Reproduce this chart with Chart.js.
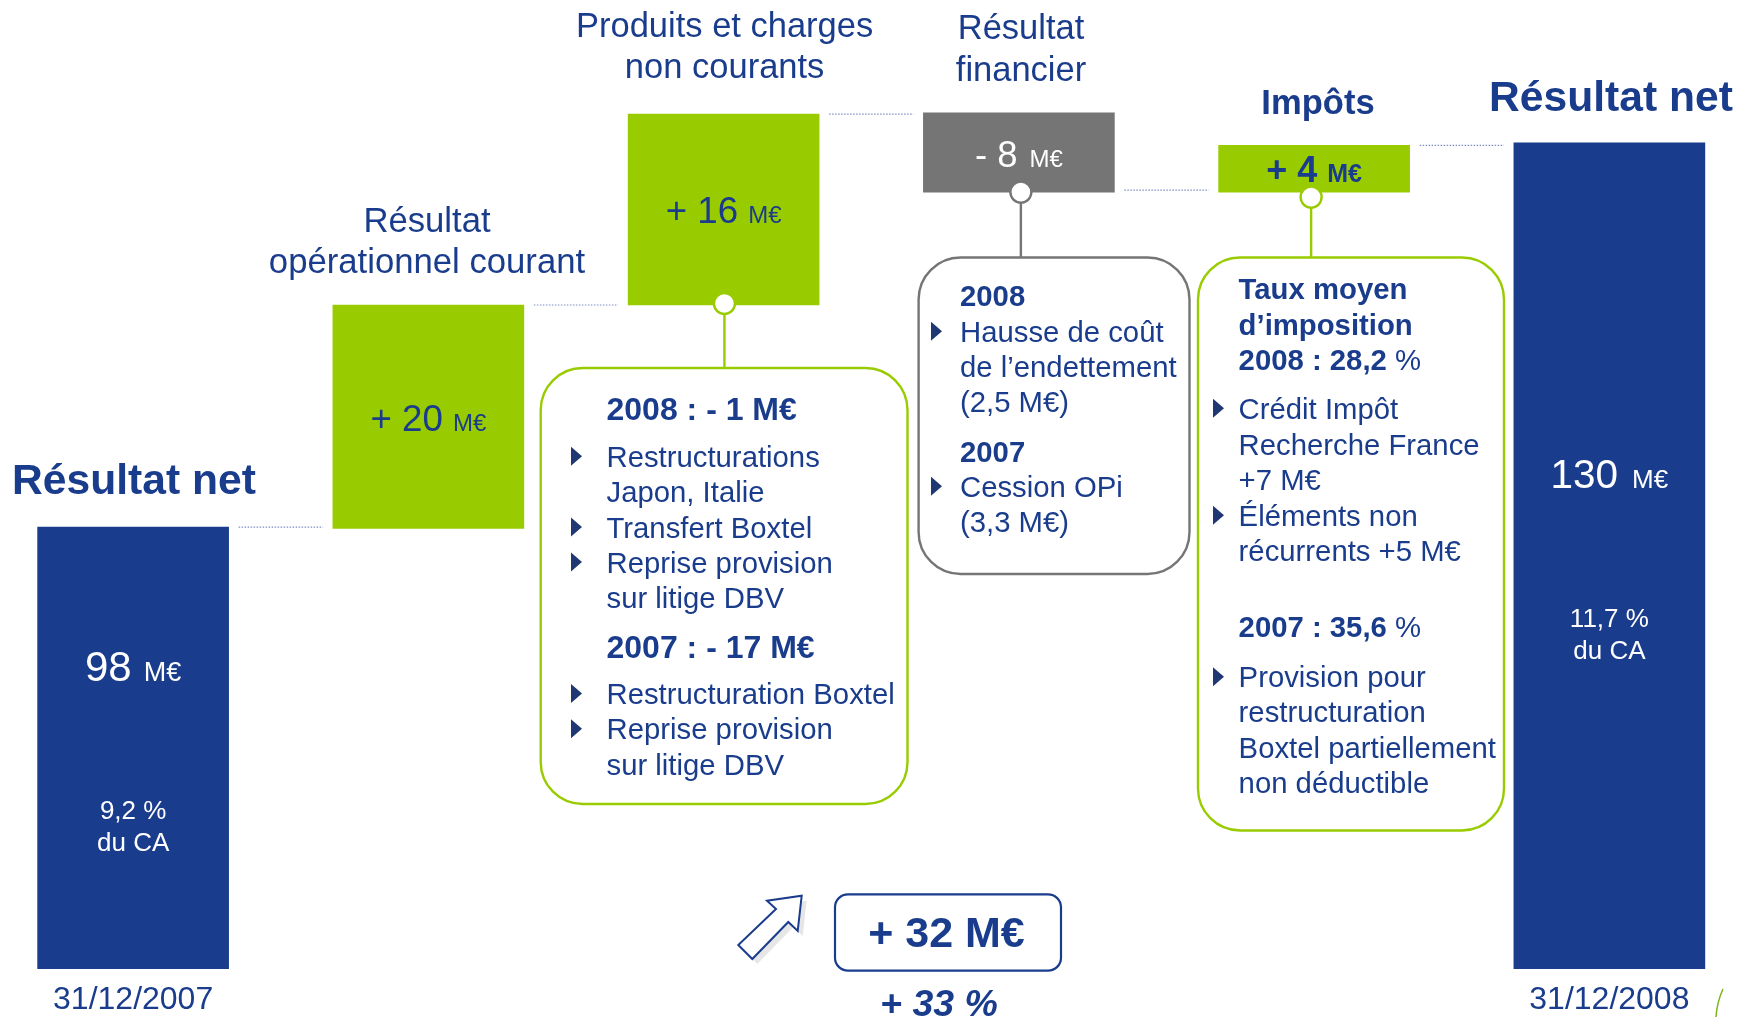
<!DOCTYPE html>
<html lang="fr">
<head>
<meta charset="utf-8">
<style>
html,body{margin:0;padding:0;background:#fff;overflow:hidden}
#wrap{position:relative;width:1748px;height:1017px;overflow:hidden}
#c{position:absolute;left:-15px;top:0;display:block}
</style>
<script src="https://cdn.jsdelivr.net/npm/chart.js@4/dist/chart.umd.min.js"></script>
</head>
<body>
<div id="wrap"><canvas id="c" width="1772" height="1017"></canvas></div>
<script>
// Data. The bars are a waterfall on a truncated axis (M€).
const categories = ["31/12/2007", "Résultat opérationnel courant", "Produits et charges non courants", "Résultat financier", "Impôts", "31/12/2008"];
const barLow  = [61.2, 97.9, 116.5, 125.9, 125.9, 61.2];
const barHigh = [98, 116.5, 132.4, 132.5, 129.8, 130];
const printedValues = ["98", "+ 20", "+ 16", "- 8", "+ 4", "130"];
const unitLabel = "M€";
const marginLabels = [["9,2 %", "du CA"], null, null, null, null, ["11,7 %", "du CA"]];
const axisMin = 61.2, axisMax = 141.9;
const tickLabels = ["31/12/2007", "", "", "", "", "31/12/2008"];

const NAVY = "#1a3c8c", GREEN = "#99cc00", GREY = "#757575", ARROW = "#1f3773", FONT = '"Liberation Sans", Arial, sans-serif';
const barColors = [NAVY, GREEN, GREEN, GREY, GREEN, NAVY];
const BODY = 29.3;
const OX = 15; // the canvas sits 15px left of the page so the first slot can overhang

// Label styling per bar: big size, small size, gap, baseline, colour, weight
const valueStyles = [
  {big:42, small:27, gap:12, y:681, color:"#fff", w:""},
  {big:36.7, small:24, gap:10, y:431, color:NAVY, w:""},
  {big:36.7, small:24, gap:10, y:223, color:NAVY, w:""},
  {big:36.5, small:24, gap:12, y:167, color:"#fff", w:""},
  {big:36, small:25, gap:10, y:182, color:NAVY, w:"bold "},
  {big:40.5, small:26, gap:14, y:488, color:"#fff", w:""}
];
const marginBaselines = [[819, 851], null, null, null, null, [627, 659]];

const headings = [
  {lines:["Résultat net"], x:134, y:[494], size:42.6, w:"bold "},
  {lines:["Résultat","opérationnel courant"], x:427, y:[232,273], size:34.7, w:""},
  {lines:["Produits et charges","non courants"], x:724.6, y:[37,78], size:34.5, w:""},
  {lines:["Résultat","financier"], x:1021, y:[39,81], size:34.5, w:""},
  {lines:["Impôts"], x:1318, y:[114], size:34.6, w:"bold "},
  {lines:["Résultat net"], x:1611, y:[110.5], size:42.6, w:"bold "}
];

const panels = [
  {bar:2, dx:0.8, dotDy:-1.5, color:GREEN, box:[540.7,368,366.8,436], tx:606.5, bx:571, lines:[
    ["2008 : - 1 M€",420,32,1],["Restructurations",466.7,0,0,1],["Japon, Italie",501.8],["Transfert Boxtel",537.5,0,0,1],
    ["Reprise provision",572.6,0,0,1],["sur litige DBV",608],["2007 : - 17 M€",657.7,32,1],
    ["Restructuration Boxtel",704,0,0,1],["Reprise provision",739.2,0,0,1],["sur litige DBV",775.4]]},
  {bar:3, dx:2, dotDy:0, color:GREY, box:[918.6,257.5,270.9,316.5], tx:960, bx:931, lines:[
    ["2008",305.6,0,1],["Hausse de coût",341.8,0,0,1],["de l’endettement",377.4],["(2,5 M€)",411.5],
    ["2007",461.6,0,1],["Cession OPi",496.8,0,0,1],["(3,3 M€)",532]]},
  {bar:4, dx:-3, dotDy:5, color:GREEN, box:[1198,257.5,306,573], tx:1238.6, bx:1213, lines:[
    ["Taux moyen",299.4,0,1],["d’imposition",334.6,0,1],["2008 : 28,2",369.7,0,1,0," %"],
    ["Crédit Impôt",418.7,0,0,1],["Recherche France",455.4],["+7 M€",490],["Éléments non",525.7,0,0,1],["récurrents +5 M€",561.3],
    ["2007 : 35,6",636.7,0,1,0," %"],["Provision pour",687.3,0,0,1],["restructuration",721.8],["Boxtel partiellement",758],["non déductible",793.2]]}
];

function rrect(ctx,x,y,w,h,r){ctx.beginPath();ctx.roundRect(x,y,w,h,r);}

const overlay = {
  id:"overlay",
  afterDatasetsDraw(chart){
    const ctx = chart.ctx, bars = chart.getDatasetMeta(0).data;
    const cxOf = i => bars[i].x - OX;
    ctx.save();
    ctx.translate(OX,0);
    ctx.textBaseline = "alphabetic";

    // dotted level connectors between consecutive bars
    ctx.strokeStyle = "#7f8dc4"; ctx.lineWidth = 1.2; ctx.setLineDash([1.5,1.5]);
    const levelY = [bars[0].y, bars[1].y, bars[2].y, bars[3].base-2, bars[4].y];
    for(let i=0;i<5;i++){
      const a = cxOf(i)+bars[i].width/2+10, b = cxOf(i+1)-bars[i+1].width/2-10;
      ctx.beginPath(); ctx.moveTo(a,levelY[i]); ctx.lineTo(b,levelY[i]); ctx.stroke();
    }
    ctx.setLineDash([]);

    // value labels, margins
    bars.forEach((bar,i)=>{
      const s = valueStyles[i], cx = cxOf(i);
      ctx.fillStyle = s.color; ctx.textAlign = "left";
      ctx.font = `${s.w}${s.big}px ${FONT}`;
      const bw = ctx.measureText(printedValues[i]).width;
      ctx.font = `${s.w}${s.small}px ${FONT}`;
      const sw = ctx.measureText(unitLabel).width;
      const x0 = cx - (bw+s.gap+sw)/2;
      ctx.font = `${s.w}${s.big}px ${FONT}`;
      ctx.fillText(printedValues[i],x0,s.y);
      ctx.font = `${s.w}${s.small}px ${FONT}`;
      ctx.fillText(unitLabel,x0+bw+s.gap,s.y);
      if(marginLabels[i]){
        ctx.textAlign = "center"; ctx.font = `26px ${FONT}`;
        marginLabels[i].forEach((t,k)=>ctx.fillText(t,cx,marginBaselines[i][k]));
      }
    });

    // headings
    ctx.fillStyle = NAVY; ctx.textAlign = "center";
    headings.forEach(h=>{
      ctx.font = `${h.w}${h.size}px ${FONT}`;
      h.lines.forEach((t,k)=>ctx.fillText(t,h.x,h.y[k]));
    });

    // callout panels
    panels.forEach(p=>{
      const bar = bars[p.bar], cx = cxOf(p.bar)+p.dx, cy = bar.base+p.dotDy;
      ctx.strokeStyle = p.color; ctx.lineWidth = 2.4;
      ctx.beginPath(); ctx.moveTo(cx,cy); ctx.lineTo(cx,p.box[1]); ctx.stroke();
      ctx.beginPath(); ctx.arc(cx,cy,10.5,0,Math.PI*2); ctx.fillStyle="#fff"; ctx.fill(); ctx.stroke();
      rrect(ctx,p.box[0],p.box[1],p.box[2],p.box[3],42); ctx.fillStyle="#fff"; ctx.fill(); ctx.stroke();
      ctx.textAlign = "left";
      p.lines.forEach(l=>{
        const [t,y,size,bold,bullet,suffix] = l;
        ctx.fillStyle = NAVY;
        ctx.font = `${bold?"bold ":""}${size||BODY}px ${FONT}`;
        ctx.fillText(t,p.tx,y);
        if(suffix){
          const w = ctx.measureText(t).width;
          ctx.font = `${BODY}px ${FONT}`;
          ctx.fillText(suffix,p.tx+w,y);
        }
        if(bullet){
          ctx.fillStyle = ARROW;
          ctx.beginPath(); ctx.moveTo(p.bx,y-20); ctx.lineTo(p.bx+11,y-10.5); ctx.lineTo(p.bx,y-1); ctx.closePath(); ctx.fill();
        }
      });
    });

    // total variation: arrow, box, percentage
    const arrow = [[738.3,945],[752.3,959],[788.3,922],[797.7,931],[801.7,895.7],[767,900.7],[776,909]];
    ctx.fillStyle = "#e6e6e6"; ctx.beginPath();
    arrow.forEach((p,i)=>i?ctx.lineTo(p[0]+5,p[1]+5):ctx.moveTo(p[0]+5,p[1]+5)); ctx.closePath(); ctx.fill();
    ctx.fillStyle = "#fff"; ctx.strokeStyle = NAVY; ctx.lineWidth = 2; ctx.beginPath();
    arrow.forEach((p,i)=>i?ctx.lineTo(p[0],p[1]):ctx.moveTo(p[0],p[1])); ctx.closePath(); ctx.fill(); ctx.stroke();
    rrect(ctx,835,894.3,226,76.4,13); ctx.lineWidth = 2.2; ctx.stroke();
    ctx.fillStyle = NAVY; ctx.textAlign = "center";
    ctx.font = `bold 43px ${FONT}`; ctx.fillText("+ 32 M€",946.5,947);
    ctx.font = `italic bold 37.5px ${FONT}`; ctx.fillText("+ 33 %",939,1016);

    // small green sliver at the bottom-right edge
    ctx.strokeStyle = "#7ab51d"; ctx.lineWidth = 1.5;
    ctx.beginPath(); ctx.moveTo(1723,989); ctx.quadraticCurveTo(1717,1002,1716,1017); ctx.stroke();
    ctx.restore();
  }
};

new Chart(document.getElementById("c"),{
  type:"bar",
  data:{labels:categories,datasets:[{
    label:"Résultat net (M€)",
    data:categories.map((_,i)=>[barLow[i],barHigh[i]]),
    backgroundColor:barColors,
    barThickness:191,
    borderWidth:0
  }]},
  options:{
    responsive:false, animation:false, devicePixelRatio:1,
    layout:{padding:{left:0.5,right:0,top:0,bottom:0}},
    plugins:{legend:{display:false},title:{display:false},tooltip:{enabled:false}},
    scales:{
      x:{
        offset:true,
        grid:{display:false,drawTicks:false},
        border:{display:false},
        afterFit(s){s.height=48;},
        ticks:{autoSkip:false,maxRotation:0,minRotation:0,padding:11.5,color:NAVY,
          font:{family:FONT,size:32},
          callback(v,i){return tickLabels[i];}}
      },
      y:{display:false,min:axisMin,max:axisMax}
    }
  },
  plugins:[overlay]
});
</script>
</body>
</html>
